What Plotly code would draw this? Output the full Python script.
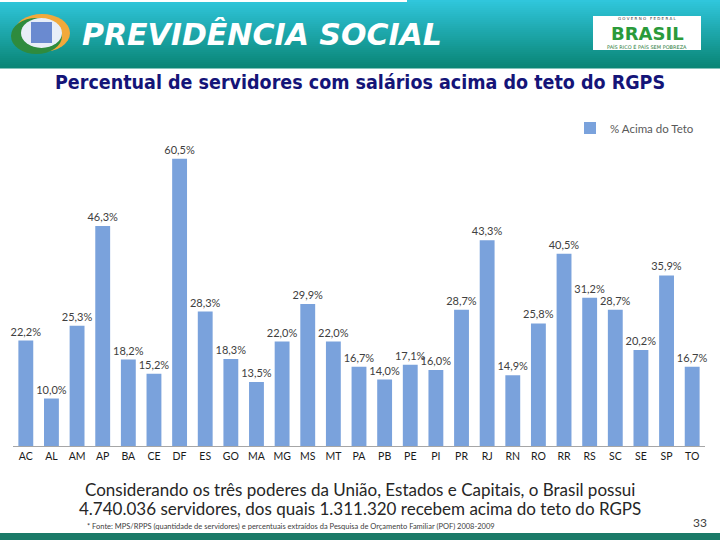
import plotly.graph_objects as go

estados = ["AC", "AL", "AM", "AP", "BA", "CE", "DF", "ES", "GO", "MA", "MG", "MS", "MT", "PA",
           "PB", "PE", "PI", "PR", "RJ", "RN", "RO", "RR", "RS", "SC", "SE", "SP", "TO"]
pct_acima_teto = [22.2, 10.0, 25.3, 46.3, 18.2, 15.2, 60.5, 28.3, 18.3, 13.5, 22.0, 29.9, 22.0, 16.7,
                  14.0, 17.1, 16.0, 28.7, 43.3, 14.9, 25.8, 40.5, 31.2, 28.7, 20.2, 35.9, 16.7]
serie_nome = "% Acima do Teto"

rotulos = [f"{v:.1f}%".replace(".", ",") for v in pct_acima_teto]

fig = go.Figure()
fig.add_trace(go.Bar(
    x=estados, y=pct_acima_teto, name=serie_nome,
    marker=dict(color="#7aa2dc", line=dict(width=0)),
    text=rotulos, textposition="outside", cliponaxis=False, constraintext="none",
    textfont=dict(family="Lato, Liberation Sans, sans-serif", size=11, color="#404040"),
))

W, H = 720, 540
def py(y):
    return 1 - y / H

shapes = []
# header gradient band
top_c = (0x30, 0xc6, 0xdc)
bot_c = (0x0a, 0x86, 0x76)
n = 34
y0, y1 = 0, 68
for i in range(n):
    t = i / (n - 1)
    c = tuple(int(top_c[k] + (bot_c[k] - top_c[k]) * t) for k in range(3))
    ya = y0 + (y1 - y0) * i / n
    yb = y0 + (y1 - y0) * (i + 1) / n + 0.6
    shapes.append(dict(type="rect", xref="paper", yref="paper", x0=0, x1=1,
                       y0=py(yb), y1=py(ya), fillcolor="rgb(%d,%d,%d)" % c,
                       line=dict(width=0), layer="below"))
# thin white strip at top-left
shapes.append(dict(type="rect", xref="paper", yref="paper", x0=0, x1=407 / W,
                   y0=py(2), y1=1, fillcolor="white", line=dict(width=0), layer="below"))
# left logo (approximation)
shapes.append(dict(type="circle", xref="paper", yref="paper", x0=14 / W, x1=70 / W,
                   y0=py(52), y1=py(14), fillcolor="#f2a93b", line=dict(width=0)))
shapes.append(dict(type="circle", xref="paper", yref="paper", x0=11 / W, x1=62 / W,
                   y0=py(54), y1=py(18), fillcolor="#2e8b3e", line=dict(width=0)))
shapes.append(dict(type="circle", xref="paper", yref="paper", x0=21 / W, x1=62 / W,
                   y0=py(48), y1=py(18), fillcolor="#e8eef8", line=dict(width=0)))
shapes.append(dict(type="rect", xref="paper", yref="paper", x0=31 / W, x1=52 / W,
                   y0=py(43), y1=py(22), fillcolor="#6a8ad0", line=dict(width=0)))
# right logo box
shapes.append(dict(type="rect", xref="paper", yref="paper", x0=593 / W, x1=701 / W,
                   y0=py(50), y1=py(16), fillcolor="white", line=dict(width=0)))
# bottom band
shapes.append(dict(type="rect", xref="paper", yref="paper", x0=0, x1=1,
                   y0=0, y1=py(533), fillcolor="#1b7a68", line=dict(width=0)))

annotations = [
    dict(text="<b><i>PREVIDÊNCIA SOCIAL</i></b>", x=80 / W, y=py(34), xref="paper", yref="paper",
         xanchor="left", yanchor="middle", showarrow=False,
         font=dict(family="DejaVu Sans", size=30, color="white")),
    dict(text="<b>BRASIL</b>", x=647 / W, y=py(33.5), xref="paper", yref="paper",
         xanchor="center", yanchor="middle", showarrow=False,
         font=dict(family="DejaVu Sans", size=18, color="#2a9a3a")),
    dict(text="G O V E R N O   F E D E R A L", x=647 / W, y=py(18.5), xref="paper", yref="paper",
         xanchor="center", yanchor="middle", showarrow=False,
         font=dict(family="DejaVu Sans", size=4, color="#333333")),
    dict(text="PAÍS RICO É PAÍS SEM POBREZA", x=647 / W, y=py(46.5), xref="paper", yref="paper",
         xanchor="center", yanchor="middle", showarrow=False,
         font=dict(family="DejaVu Sans", size=5, color="#2a7a3a")),
    dict(text="<b>Percentual de servidores com salários acima do teto do RGPS</b>",
         x=0.5, y=py(82), xref="paper", yref="paper", xanchor="center", yanchor="middle",
         showarrow=False, font=dict(family="DejaVu Sans Condensed, Liberation Sans, sans-serif",
                                    size=19.5, color="#141478")),
    dict(text="Considerando os três poderes da União, Estados e Capitais, o Brasil possui",
         x=0.5, y=py(489), xref="paper", yref="paper", xanchor="center", yanchor="middle",
         showarrow=False, font=dict(family="Lato, sans-serif", size=17, color="#262626")),
    dict(text="4.740.036 servidores, dos quais 1.311.320 recebem acima do teto do RGPS",
         x=0.5, y=py(508), xref="paper", yref="paper", xanchor="center", yanchor="middle",
         showarrow=False, font=dict(family="Lato, sans-serif", size=17, color="#262626")),
    dict(text="* Fonte: MPS/RPPS (quantidade de servidores) e percentuais extraídos da Pesquisa de Orçamento Familiar (POF) 2008-2009",
         x=291 / W, y=py(526), xref="paper", yref="paper", xanchor="center", yanchor="middle",
         showarrow=False, font=dict(family="Lato, sans-serif", size=7.5, color="#404040")),
    dict(text="33", x=700 / W, y=py(522), xref="paper", yref="paper", xanchor="center",
         yanchor="middle", showarrow=False, font=dict(family="Lato, sans-serif", size=12, color="#404040")),
]

fig.update_layout(
    width=W, height=H, margin=dict(l=0, r=0, t=0, b=0),
    paper_bgcolor="white", plot_bgcolor="white",
    showlegend=True,
    legend=dict(x=570 / W, y=py(128), xanchor="left", yanchor="middle", bgcolor="rgba(0,0,0,0)",
                font=dict(family="Lato, sans-serif", size=11.5, color="#595959"),
                itemwidth=30),
    bargap=0.42,
    xaxis=dict(domain=[13 / W, 705 / W], anchor="y", showgrid=False, showline=True,
               linecolor="#a6a6a6", linewidth=1, ticks="",
               tickfont=dict(family="Lato, sans-serif", size=10.5, color="#1a1a1a")),
    yaxis=dict(domain=[py(446), py(113.5)], range=[0, 70], visible=False, showgrid=False),
    shapes=shapes, annotations=annotations,
)

fig.write_html("out.html", config={"displayModeBar": False},
               post_script="document.body.style.margin='0';document.body.style.overflow='hidden';")
